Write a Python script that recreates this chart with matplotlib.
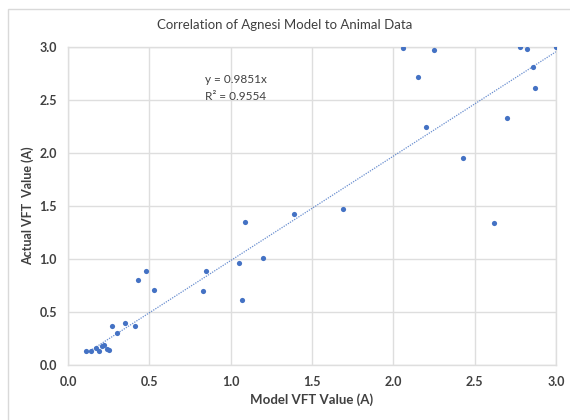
import numpy as np
import matplotlib.pyplot as plt
from matplotlib.patches import Rectangle

plt.rcParams['font.family'] = ['Lato', 'DejaVu Sans']

# model vs measured VFT values
model_vft = [0.11, 0.14, 0.17, 0.19, 0.21, 0.22, 0.24, 0.25, 0.27, 0.30,
             0.35, 0.41, 0.43, 0.48, 0.53, 0.83, 0.85, 1.05, 1.07, 1.09,
             1.20, 1.39, 1.69, 2.06, 2.15, 2.20, 2.25, 2.43, 2.62, 2.70,
             2.78, 2.82, 2.86, 2.87, 3.00]
actual_vft = [0.13, 0.135, 0.16, 0.13, 0.18, 0.19, 0.15, 0.14, 0.37, 0.30,
              0.40, 0.37, 0.80, 0.89, 0.71, 0.70, 0.89, 0.96, 0.61, 1.35,
              1.01, 1.42, 1.47, 2.99, 2.72, 2.25, 2.97, 1.95, 1.34, 2.33,
              3.00, 2.98, 2.81, 2.61, 3.00]
slope = 0.9851
r_squared = 0.9554
ticks = [0.0, 0.5, 1.0, 1.5, 2.0, 2.5, 3.0]

fig = plt.figure(figsize=(5.7, 4.2), dpi=100)
fig.patches.append(Rectangle((8 / 570, -0.1), 1.2, 1 - 9 / 420 + 0.1,
                             transform=fig.transFigure, fill=False,
                             edgecolor='#d9d9d9', linewidth=1))
ax = fig.add_axes([68 / 570, 55 / 420, 488 / 570, 318 / 420])

grid_color = '#dedede'
ax.grid(True, color=grid_color, linewidth=1)
ax.set_axisbelow(True)
for s in ax.spines.values():
    s.set_color(grid_color)
    s.set_linewidth(1)

ax.scatter(model_vft, actual_vft, s=14, color='#4472c4', zorder=3, linewidths=0)

# trendline through origin
xs = np.array([min(model_vft), max(model_vft)])
ax.plot(xs, slope * xs, color='#4472c4', linestyle=(0, (1, 1)),
        linewidth=0.9, alpha=0.8, zorder=2)

ax.text(0.84, 2.69, 'y = %.4fx' % slope, fontsize=8.5, color='#404040', va='center')
ax.text(0.84, 2.53, 'R² = %.4f' % r_squared, fontsize=8.5, color='#404040', va='center')

ax.set_xlim(0, 3)
ax.set_ylim(0, 3)
ax.set_xticks(ticks)
ax.set_yticks(ticks)
ax.set_xticklabels(['%.1f' % t for t in ticks])
ax.set_yticklabels(['%.1f' % t for t in ticks])
ax.tick_params(length=0, pad=8, labelsize=9, labelcolor='#404040')
for lbl in ax.get_xticklabels() + ax.get_yticklabels():
    lbl.set_fontweight('bold')

ax.set_xlabel('Model VFT Value (A)', fontsize=9.5, fontweight='bold',
              color='#404040', labelpad=4)
ax.set_ylabel('Actual VFT  Value (A)', fontsize=9, fontweight='bold',
              color='#404040', labelpad=4)
fig.text(0.5, 1 - 25 / 420, 'Correlation of Agnesi Model to Animal Data',
         ha='center', va='center', fontsize=9.5, color='#404040')

fig.savefig('out.png', dpi=100)
